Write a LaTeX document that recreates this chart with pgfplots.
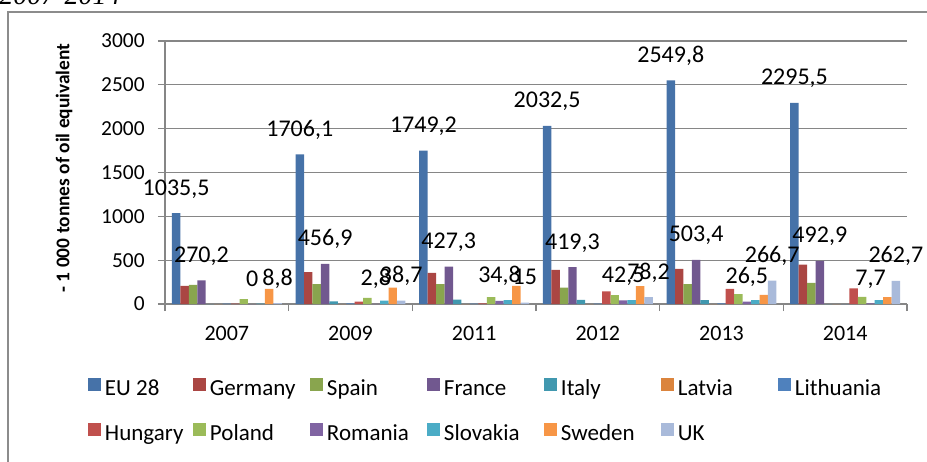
\documentclass[border=0pt]{standalone}
\usepackage{fontspec}
\setmainfont{Carlito}
\newfontfamily\serifit{Liberation Serif}
\usepackage{pgfplots}
\pgfplotsset{compat=1.18}
\definecolor{cEU}{HTML}{4672A8}
\definecolor{cDE}{HTML}{AA4643}
\definecolor{cES}{HTML}{89A54E}
\definecolor{cFR}{HTML}{71588F}
\definecolor{cIT}{HTML}{4198AF}
\definecolor{cLV}{HTML}{DB843D}
\definecolor{cLT}{HTML}{4F81BD}
\definecolor{cHU}{HTML}{C0504D}
\definecolor{cPL}{HTML}{9BBB59}
\definecolor{cRO}{HTML}{8064A2}
\definecolor{cSK}{HTML}{4BACC6}
\definecolor{cSE}{HTML}{F79646}
\definecolor{cUK}{HTML}{A9BADA}
\definecolor{gridgray}{HTML}{868686}
\definecolor{framegray}{HTML}{8C8C8C}
\pgfplotsset{
  mybar/.style={fill=#1, draw=none,
    legend image code/.code={\fill[#1] (0pt,-0.5pt) rectangle (6.5pt,6pt);}},
  mylabels/.style={nodes near coords, point meta=explicit symbolic,
    every node near coord/.append style={font=\fontsize{12}{14}\selectfont, anchor=base, inner sep=0pt, yshift=9pt, text=black}},
}
\begin{document}
\begin{tikzpicture}
\useasboundingbox (0,0) rectangle (463.5pt,230.5pt);
\clip (0,0) rectangle (463.5pt,230.5pt);
\draw[framegray, line width=0.6pt] (4pt,-20pt) rectangle (480pt,224.5pt);
\node[anchor=base west, inner sep=0pt, font=\serifit\itshape\fontsize{14}{16}\selectfont] at (-0.5pt,228pt) {2007-2014};
\begin{axis}[
  at={(82.5pt,78.5pt)}, anchor=south west,
  scale only axis, width=371pt, height=131.5pt,
  ybar=0pt, bar width=4.225pt,
  xmin=-0.5, xmax=5.5, ymin=0, ymax=3000,
  enlargelimits=false,
  axis x line*=bottom, axis y line*=left,
  axis line style={draw=gridgray, line width=0.6pt, -},
  ytick={0,500,...,3000}, ymajorgrids,
  grid style={gridgray, line width=0.6pt},
  xtick={-0.5,0.5,...,5.5}, xticklabels={},
  extra x ticks={0,1,2,3,4,5},
  extra x tick labels={2007,2009,2011,2012,2013,2014},
  extra x tick style={major tick length=0pt, xmajorgrids=false},
  tick align=outside, major tick length=3.5pt,
  tick style={gridgray, line width=0.6pt},
  /pgf/number format/assume math mode=true,
  /pgf/number format/1000 sep={},
  yticklabel style={font=\fontsize{10.7}{12}\selectfont, inner sep=0pt, anchor=east, xshift=-6.5pt},
  xticklabel style={font=\fontsize{11}{12}\selectfont, inner sep=0pt, anchor=base, yshift=-18pt},
  ylabel={- 1 000 tonnes of oil equivalent},
  ylabel style={at={(axis description cs:-0.1361,0.517)}, anchor=center, font=\bfseries\fontsize{9.7}{11}\selectfont},
  legend columns=7,
  legend style={at={(axis description cs:-0.1038,-0.2814)}, anchor=north west, draw=none, fill=none,
    inner sep=0pt, outer sep=0pt, row sep=11pt, font=\fontsize{11.5}{13}\selectfont,
    nodes={inner sep=0pt, text height=8pt, text depth=2.5pt},
    /tikz/every odd column/.append style={column sep=2pt}},
]
\addplot[mybar=cEU, mylabels] coordinates {(0,1035.5)[1035,5] (1,1706.1)[1706,1] (2,1749.2)[1749,2] (3,2032.5)[2032,5] (4,2549.8)[2549,8] (5,2295.5)[2295,5]};
\addlegendentry{\makebox[44pt][l]{EU 28}}
\addplot[mybar=cDE] coordinates {(0,207) (1,363) (2,355) (3,390) (4,402) (5,449)};
\addlegendentry{\makebox[50pt][l]{Germany}}
\addplot[mybar=cES] coordinates {(0,219) (1,226) (2,226) (3,187) (4,226) (5,242)};
\addlegendentry{\makebox[50pt][l]{Spain}}
\addplot[mybar=cFR, mylabels] coordinates {(0,270.2)[270,2] (1,456.9)[456,9] (2,427.3)[427,3] (3,419.3)[419,3] (4,503.4)[503,4] (5,492.9)[492,9]};
\addlegendentry{\makebox[50pt][l]{France}}
\addplot[mybar=cIT] coordinates {(0,0) (1,31) (2,51) (3,47) (4,43) (5,0)};
\addlegendentry{\makebox[50pt][l]{Italy}}
\addplot[mybar=cLV] coordinates {(0,0) (1,0) (2,0) (3,0) (4,0) (5,0)};
\addlegendentry{\makebox[50pt][l]{Latvia}}
\addplot[mybar=cLT] coordinates {(0,3) (1,8) (2,3) (3,5) (4,8) (5,0)};
\addlegendentry{\makebox[50pt][l]{Lithuania}}
\addplot[mybar=cHU] coordinates {(0,3) (1,27) (2,8) (3,144) (4,172) (5,179)};
\addlegendentry{\makebox[44pt][l]{Hungary}}
\addplot[mybar=cPL] coordinates {(0,55) (1,70) (2,78) (3,101) (4,113) (5,82)};
\addlegendentry{\makebox[50pt][l]{Poland}}
\addplot[mybar=cRO, mylabels] coordinates {(0,0)[0] (1,2.8)[2,8] (2,34.8)[34,8] (3,42.5)[42,5] (4,26.5)[26,5] (5,7.7)[7,7]};
\addlegendentry{\makebox[50pt][l]{Romania}}
\addplot[mybar=cSK] coordinates {(0,3) (1,39) (2,43) (3,43) (4,43) (5,43)};
\addlegendentry{\makebox[50pt][l]{Slovakia}}
\addplot[mybar=cSE] coordinates {(0,172) (1,187) (2,207) (3,203) (4,105) (5,78)};
\addlegendentry{\makebox[50pt][l]{Sweden}}
\addplot[mybar=cUK, mylabels] coordinates {(0,8.8)[8,8] (1,38.7)[38,7] (2,15)[15] (3,78.2)[78,2] (4,266.7)[266,7] (5,262.7)[262,7]};
\addlegendentry{\makebox[50pt][l]{UK}}
\end{axis}
\end{tikzpicture}
\end{document}
